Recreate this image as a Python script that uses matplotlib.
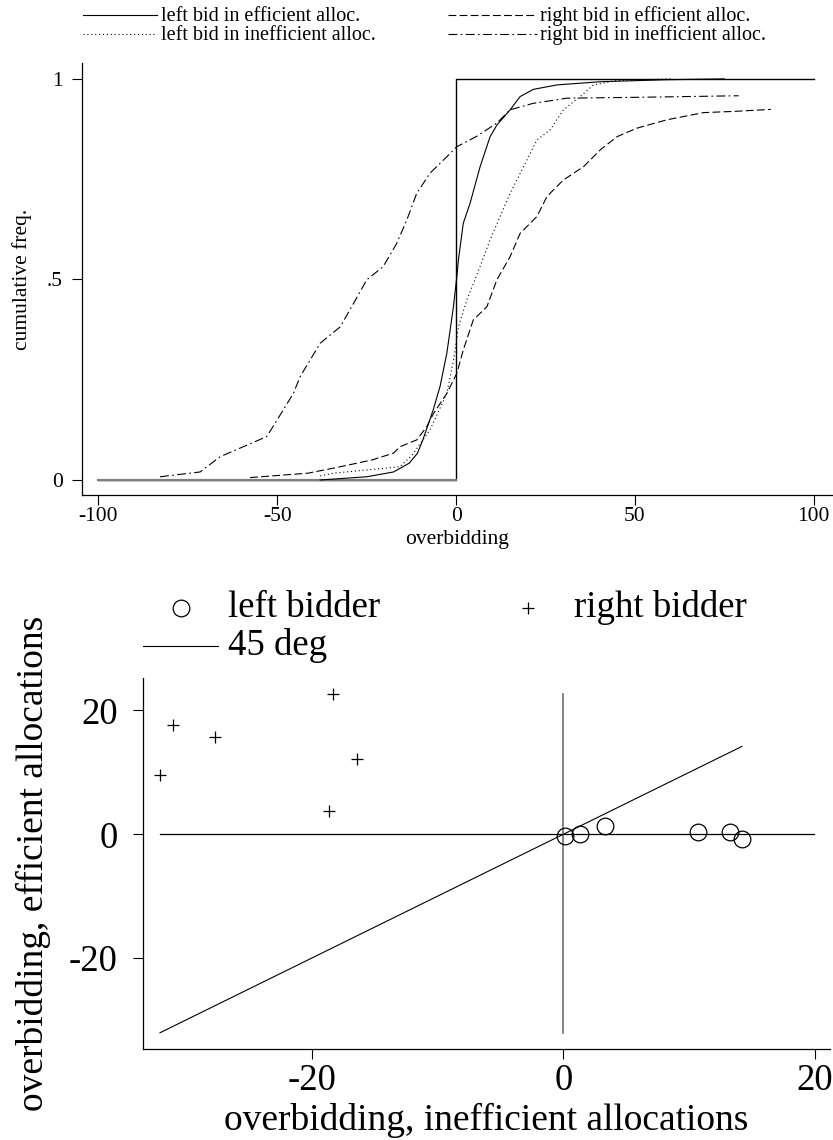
import numpy as np
import matplotlib
matplotlib.use("Agg")
import matplotlib.pyplot as plt
from matplotlib.lines import Line2D

plt.rcParams['font.family'] = ['Liberation Serif', 'DejaVu Serif']
plt.rcParams['axes.unicode_minus'] = False

# ---------------- data: top panel (cumulative freq. of overbidding) ----------------
# left bid, efficient allocations
left_eff_x = [-38, -25, -17.5, -13.1, -10.8, -9.3, -6.4, -4.5, -2.6, -0.75, 0.2, 0.65, 2, 3.9,
              6.7, 9.5, 11.4, 15.1, 17.9, 21.6, 28.2, 40.3, 58.9, 75]
left_eff_y = [0, 0.008, 0.02, 0.042, 0.067, 0.1, 0.175, 0.233, 0.316, 0.432, 0.507, 0.549, 0.64, 0.69,
              0.781, 0.856, 0.885, 0.923, 0.956, 0.974, 0.985, 0.993, 0.998, 1.0]

# left bid, inefficient allocations
left_ineff_x = [-38, -34.3, -15.7, -12.3, -7.3, -2.6, -0.7, 0.65, 3, 6.7, 9.5, 15.1, 19.8,
                22.6, 26.3, 30, 34.7, 38.4, 45, 60]
left_ineff_y = [0.01, 0.017, 0.033, 0.062, 0.125, 0.216, 0.3, 0.382, 0.449, 0.532, 0.599, 0.715, 0.798,
                0.848, 0.873, 0.923, 0.956, 0.985, 0.996, 1.0]

# right bid, efficient allocations
right_eff_x = [-57.6, -41.4, -32.4, -23.5, -17.5, -15.7, -11, -8.2, -6.3, -2.6, 0.2, 2, 4.8, 8.6,
               11.4, 15.1, 17.9, 22.6, 25.4, 30, 35.6, 40.3, 45, 50.5, 58.9, 69.2, 77.6, 88]
right_eff_y = [0.006, 0.017, 0.033, 0.05, 0.067, 0.083, 0.1, 0.133, 0.166, 0.216, 0.266, 0.324, 0.399, 0.432,
               0.499, 0.557, 0.615, 0.657, 0.707, 0.748, 0.781, 0.823, 0.856, 0.877, 0.898, 0.916, 0.919, 0.924]

# right bid, inefficient allocations
right_ineff_x = [-82.8, -71.6, -66, -53, -51.2, -45.5, -43.6, -38, -32.4, -28.7, -25, -20.4, -16.6,
                 -13.8, -11, -7.3, -2.6, 0.2, 5.8, 11.4, 15.1, 21.5, 31, 49.6, 79]
right_ineff_y = [0.008, 0.02, 0.058, 0.108, 0.133, 0.216, 0.258, 0.341, 0.382, 0.44, 0.499, 0.532, 0.59,
                 0.648, 0.715, 0.765, 0.806, 0.831, 0.857, 0.89, 0.923, 0.939, 0.952, 0.954, 0.958]

# truthful bidding benchmark (step at 0)
bench_x = [-100, 0, 0, 100]
bench_y = [0, 0, 1, 1]

top_xticks = [-100, -50, 0, 50, 100]
top_xlabels = ['-100', '-50', '0', '50', '100']
top_yticks = [0, 0.5, 1]
top_ylabels = ['0', '.5', '1']

# ---------------- data: bottom panel (mean overbidding by session) ----------------
left_bidder_x = [0.12, 1.31, 3.3, 10.67, 13.24, 14.2]
left_bidder_y = [-0.32, 0.0, 1.34, 0.32, 0.32, -0.75]
right_bidder_x = [-32.07, -31.0, -27.7, -18.35, -18.6, -16.4]
right_bidder_y = [9.63, 17.7, 15.7, 22.7, 3.7, 12.2]
hline_x = [-32.07, 19.9]

bot_ticks = [-20, 0, 20]
bot_labels = ['-20', '0', '20']

fig = plt.figure(figsize=(8.33, 11.4), dpi=100)

# ====================== top panel ======================
ax1 = fig.add_axes([0.0989, 0.5658, 0.8999, 0.3787])
ax1.plot(bench_x, bench_y, color='black', lw=1.0)
ax1.plot(bench_x[:2], bench_y[:2], color='#808080', lw=1.6)

styles = [
    (left_eff_x, left_eff_y, '-'),
    (right_eff_x, right_eff_y, (0, (7, 3))),
    (left_ineff_x, left_ineff_y, (0, (1, 2.5))),
    (right_ineff_x, right_ineff_y, (0, (8, 3, 1.5, 3))),
]
for xs, ys, ls in styles:
    ax1.plot(xs, ys, color='black', lw=0.8, linestyle=ls)

ax1.set_xlim(-104.5, 105.1)
ax1.set_ylim(-0.0374, 1.039)
ax1.set_xticks(top_xticks)
ax1.set_xticklabels(top_xlabels)
ax1.set_yticks(top_yticks)
ax1.set_yticklabels(top_ylabels)
ax1.tick_params(labelsize=15.5, length=7, width=0.8, direction='out')
ax1.tick_params(axis='x', pad=2)
ax1.tick_params(axis='y', pad=7)
for s in ['top', 'right']:
    ax1.spines[s].set_visible(False)
for s in ['left', 'bottom']:
    ax1.spines[s].set_linewidth(0.9)
ax1.set_xlabel('overbidding', fontsize=15.5, va='center')
ax1.xaxis.set_label_coords(0.5, -0.104)
ax1.set_ylabel('cumulative freq.', fontsize=15.5, va='center')
ax1.yaxis.set_label_coords(-0.0806, 0.5)

# legend of top panel, drawn by hand in Stata layout
W, H = 833.0, 1140.0
leg_items = [
    (83, 157, 161, 15, 21, '-', 'left bid in efficient alloc.'),
    (448, 537, 540, 15, 21, (0, (7, 3)), 'right bid in efficient alloc.'),
    (83, 157, 161, 34, 40, (0, (1, 2.5)), 'left bid in inefficient alloc.'),
    (448, 537, 540, 34, 40, (0, (8, 3, 1.5, 3)), 'right bid in inefficient alloc.'),
]
for x0, x1, xt, yl, yb, ls, lab in leg_items:
    fig.add_artist(Line2D([x0 / W, x1 / W], [1 - yl / H, 1 - yl / H], color='black',
                          lw=0.8, linestyle=ls, transform=fig.transFigure))
    fig.text(xt / W, 1 - yb / H, lab, fontsize=14.5, ha='left', va='baseline')

# ====================== bottom panel ======================
ax2 = fig.add_axes([0.172, 0.0798, 0.8244, 0.3252])
all_x = left_bidder_x + right_bidder_x
all_y = left_bidder_y + right_bidder_y
diag = [min(all_x), max(all_x)]
ax2.plot(hline_x, [0, 0], color='black', lw=0.9)
ax2.plot([0, 0], [min(diag), max(all_y)], color='#707070', lw=1.2)
ax2.plot(diag, diag, color='black', lw=0.8)
ax2.plot(left_bidder_x, left_bidder_y, linestyle='none', marker='o', ms=12,
         mfc='none', mec='black', mew=0.9)
ax2.plot(right_bidder_x, right_bidder_y, linestyle='none', marker='+', ms=9,
         color='black', mew=0.9)

ax2.set_xlim(-33.4, 21.2)
ax2.set_ylim(-34.7, 25.2)
ax2.set_xticks(bot_ticks)
ax2.set_xticklabels(bot_labels)
ax2.set_yticks(bot_ticks)
ax2.set_yticklabels(bot_labels)
ax2.tick_params(labelsize=26.5, length=7.5, width=0.8, direction='out')
ax2.tick_params(axis='x', pad=3)
ax2.tick_params(axis='y', pad=11)
for s in ['top', 'right']:
    ax2.spines[s].set_visible(False)
for s in ['left', 'bottom']:
    ax2.spines[s].set_linewidth(0.9)
ax2.set_xlabel('overbidding, inefficient allocations', fontsize=27, va='center')
ax2.xaxis.set_label_coords(0.5, -0.1915)
ax2.set_ylabel('overbidding, efficient allocations', fontsize=27, va='center')
ax2.yaxis.set_label_coords(-0.1606, 0.5)

# legend of bottom panel
fig.add_artist(Line2D([181 / W], [1 - 608 / H], marker='o', ms=12, mfc='none', mec='black',
                      mew=0.9, linestyle='none', transform=fig.transFigure))
fig.text(228 / W, 1 - 617 / H, 'left bidder', fontsize=26.5, ha='left', va='baseline')
fig.add_artist(Line2D([527.5 / W], [1 - 608 / H], marker='+', ms=9, color='black',
                      mew=0.9, linestyle='none', transform=fig.transFigure))
fig.text(574 / W, 1 - 617 / H, 'right bidder', fontsize=26.5, ha='left', va='baseline')
fig.add_artist(Line2D([143 / W, 218 / W], [1 - 646 / H, 1 - 646 / H], color='black',
                      lw=0.8, transform=fig.transFigure))
fig.text(228 / W, 1 - 655 / H, '45 deg', fontsize=26.5, ha='left', va='baseline')

fig.savefig('out.png', dpi=100)
